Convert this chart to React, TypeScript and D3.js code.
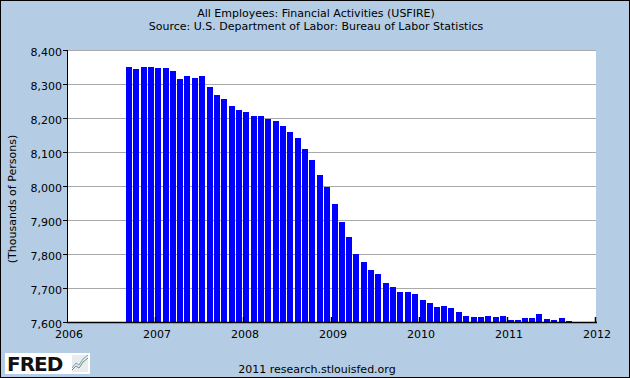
import React from "react";
import * as d3 from "d3";

const titleLines = [
  "All Employees: Financial Activities (USFIRE)",
  "Source: U.S. Department of Labor: Bureau of Labor Statistics",
];
const yAxisLabel = "(Thousands of Persons)";
const footerText = "2011 research.stlouisfed.org";

const months = [
  "2006-09", "2006-10", "2006-11", "2006-12",
  "2007-01", "2007-02", "2007-03", "2007-04", "2007-05", "2007-06", "2007-07", "2007-08", "2007-09", "2007-10", "2007-11", "2007-12",
  "2008-01", "2008-02", "2008-03", "2008-04", "2008-05", "2008-06", "2008-07", "2008-08", "2008-09", "2008-10", "2008-11", "2008-12",
  "2009-01", "2009-02", "2009-03", "2009-04", "2009-05", "2009-06", "2009-07", "2009-08", "2009-09", "2009-10", "2009-11", "2009-12",
  "2010-01", "2010-02", "2010-03", "2010-04", "2010-05", "2010-06", "2010-07", "2010-08", "2010-09", "2010-10", "2010-11", "2010-12",
  "2011-01", "2011-02", "2011-03", "2011-04", "2011-05", "2011-06", "2011-07", "2011-08", "2011-09",
];

const employees = [
  8351, 8345, 8351, 8351,
  8348, 8348, 8339, 8316, 8325, 8319, 8325, 8292, 8268, 8257, 8236, 8224,
  8218, 8206, 8206, 8198, 8192, 8177, 8160, 8142, 8110, 8077, 8033, 7998,
  7948, 7895, 7851, 7801, 7777, 7754, 7742, 7716, 7704, 7689, 7689, 7683,
  7666, 7657, 7645, 7648, 7642, 7630, 7619, 7616, 7616, 7619, 7616, 7619,
  7607, 7607, 7613, 7613, 7625, 7610, 7607, 7613, 7603,
];

const yTicks = [7600, 7700, 7800, 7900, 8000, 8100, 8200, 8300, 8400];
const xTickYears = [2006, 2007, 2008, 2009, 2010, 2011, 2012];
const yDomain = [7600, 8400];

const W = 630;
const H = 378;
const BG = "#b4cde4";
const FONT = "'DejaVu Sans', Verdana, sans-serif";

function parseMonth(s: string) {
  const [y, m] = s.split("-").map(Number);
  return new Date(y, m - 1, 1);
}

export default function App() {
  const x = d3
    .scaleTime()
    .domain([new Date(2006, 0, 1), new Date(2012, 0, 1)])
    .range([68, 596]);
  const y = d3.scaleLinear().domain(yDomain).range([322, 50]);
  const fmt = d3.format(",");
  const data = months.map((m, i) => ({ date: parseMonth(m), value: employees[i] }));
  const barW = 6;

  return (
    <svg
      width={W}
      height={H}
      style={{ position: "fixed", left: 0, top: 0, display: "block" }}
      fontFamily={FONT}
    >
      <rect x={0} y={0} width={W} height={H} fill={BG} />
      <rect x={0.5} y={0.5} width={W - 1} height={H - 1} fill="none" stroke="#000" strokeWidth={1} />

      {/* title */}
      <text x={316} y={17} fontSize={11} textAnchor="middle" fill="#000">{titleLines[0]}</text>
      <text x={316} y={30} fontSize={11} textAnchor="middle" fill="#000">{titleLines[1]}</text>

      {/* plot area */}
      <rect x={68} y={y(8400)} width={596 - 68} height={y(7600) - y(8400)} fill="#fff" />

      {/* gridlines */}
      {yTicks.filter((t) => t !== 7600).map((t) => (
        <line
          key={"g" + t}
          x1={68}
          x2={596}
          y1={Math.round(y(t)) + 0.5}
          y2={Math.round(y(t)) + 0.5}
          stroke="#aaaaaa"
          strokeWidth={1}
        />
      ))}

      {/* bars */}
      {data.map((d, i) => {
        const top = Math.round(y(d.value));
        return (
          <rect
            key={"b" + i}
            x={Math.floor(x(d.date))}
            y={top}
            width={barW}
            height={322 - top}
            fill="#0000ff"
          />
        );
      })}

      {/* y axis */}
      <line x1={67.5} x2={67.5} y1={y(8400)} y2={323} stroke="#000" strokeWidth={1} />
      {yTicks.map((t) => (
        <g key={"yt" + t}>
          <line x1={63} x2={68} y1={Math.round(y(t)) + 0.5} y2={Math.round(y(t)) + 0.5} stroke="#000" />
          <text x={62} y={Math.round(y(t)) + 6} fontSize={11} textAnchor="end" fill="#000">
            {fmt(t)}
          </text>
        </g>
      ))}

      {/* x axis */}
      <line x1={67} x2={597} y1={322.5} y2={322.5} stroke="#000" strokeWidth={1.5} />
      {xTickYears.map((yr) => {
        const px = Math.round(x(new Date(yr, 0, 1)));
        return (
          <g key={"xt" + yr}>
            {yr !== 2006 && (
              <line x1={px - 0.5} x2={px - 0.5} y1={317} y2={322} stroke="#000" strokeWidth={1.5} />
            )}
            <text x={px + 1} y={338} fontSize={11} textAnchor="middle" fill="#000">
              {yr}
            </text>
          </g>
        );
      })}

      {/* y label */}
      <text
        transform="translate(16,199) rotate(-90)"
        fontSize={11}
        textAnchor="middle"
        fill="#000"
      >
        {yAxisLabel}
      </text>

      {/* footer */}
      <text x={317} y={373} fontSize={11} textAnchor="middle" fill="#000">{footerText}</text>

      {/* FRED logo */}
      <g>
        <rect x={5} y={353} width={85} height={21} fill="#fff" />
        <text x={7} y={371} fontSize={20} fontWeight="bold" fill="#111" fontFamily="'DejaVu Sans', Arial, sans-serif" letterSpacing={-1}>
          FRED
        </text>
        <rect x={72} y={355} width={16} height={17} fill="#e8ecef" />
        <path d="M72,370 L76,366 L79,368 L83,362 L88,358" fill="none" stroke="#6a9a5a" strokeWidth={1} />
        <path d="M72,368 L76,363 L79,365 L83,359 L88,355" fill="none" stroke="#7d9dc4" strokeWidth={1} />
      </g>
    </svg>
  );
}
